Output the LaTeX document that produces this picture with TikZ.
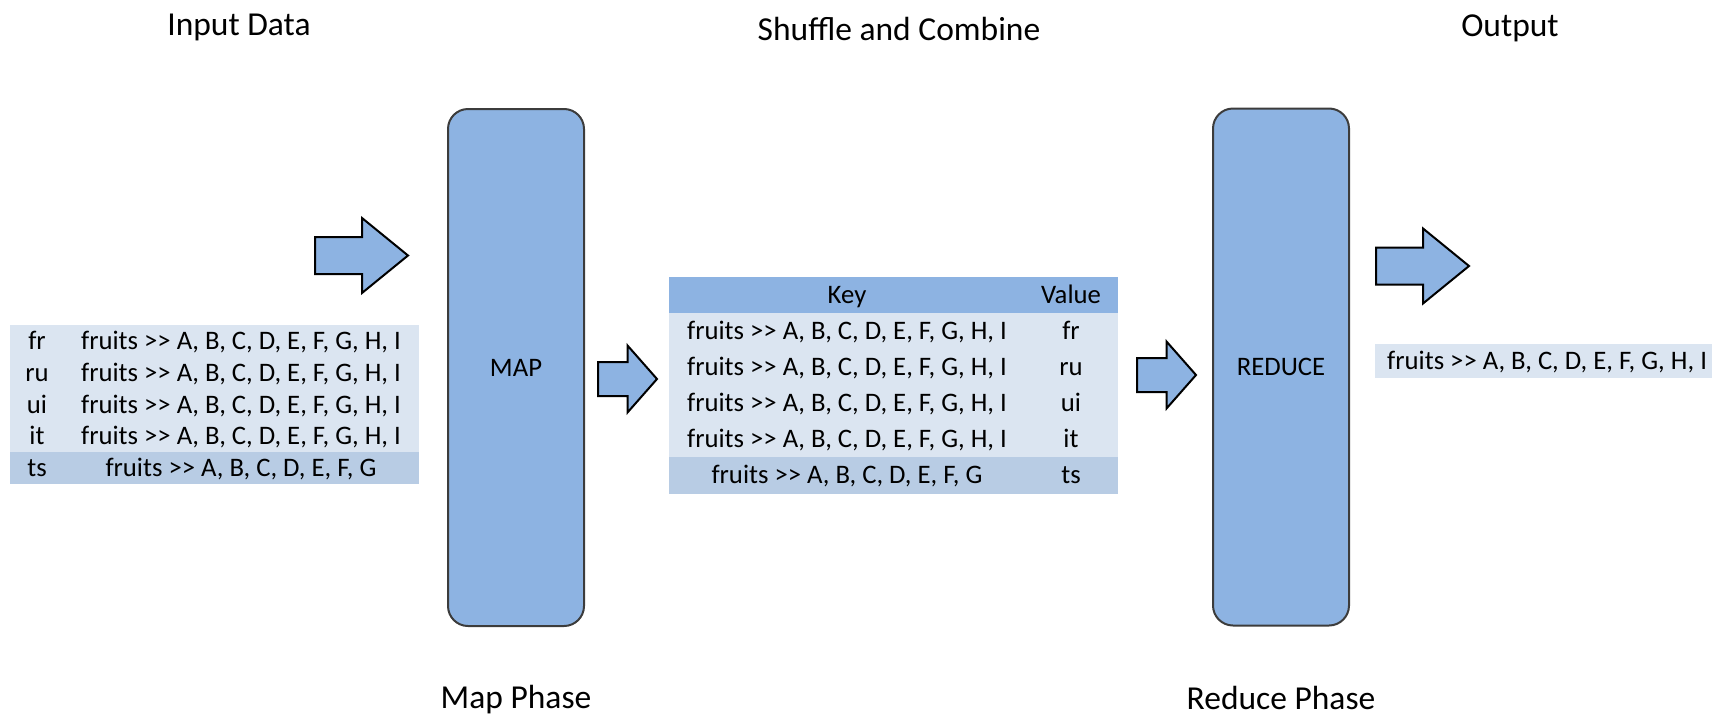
\documentclass[tikz,border=0pt]{standalone}
\usepackage{fontspec}
\setmainfont{Carlito}
\usetikzlibrary{positioning}
\definecolor{mrBlue}{RGB}{141,179,226}
\definecolor{mrLight}{RGB}{219,229,241}
\definecolor{mrDark}{RGB}{184,204,228}
\definecolor{mrGray}{RGB}{60,60,60}
\newcommand\fruitsall{fruits >\kern0pt> A, B, C, D, E, F, G, H, I}
\newcommand\fruitsseven{fruits >\kern0pt> A, B, C, D, E, F, G}

\begin{document}
\begin{tikzpicture}[
  x=1pt, y=-1pt,
  node distance=0pt,
  every node/.style={font=\fontsize{26.7}{32}\selectfont, text height=17.1pt, text depth=0pt, inner sep=0pt},
  title/.style={font=\fontsize{33.5}{40}\selectfont, text height=21.5pt},
  phase/.style={draw=mrGray, line width=2pt, fill=mrBlue, rounded corners=20pt, minimum width=136pt, minimum height=517pt},
  tint/.style={fill=#1, draw=#1, line width=0.8pt, outer sep=0pt},
  keycell/.style={tint=mrLight, minimum width=54pt, minimum height=31.75pt},
  valcell/.style={tint=mrLight, minimum width=354pt, minimum height=31.75pt},
  kvkey/.style={tint=mrLight, minimum width=356pt, minimum height=36pt},
  kvval/.style={tint=mrLight, minimum width=92pt, minimum height=36pt},
  blockarrow/.style={draw=black, line width=2pt, fill=mrBlue, line join=miter},
  bigarrow/.pic={\draw[blockarrow] (0,-18.5) -- (47,-18.5) -- (47,-37.5) -- (93,0) -- (47,37.5) -- (47,18.5) -- (0,18.5) -- cycle;},
  smallarrow/.pic={\draw[blockarrow] (0,-17) -- (29.5,-17) -- (29.5,-33.5) -- (59,0) -- (29.5,33.5) -- (29.5,17) -- (0,17) -- cycle;}
]
\useasboundingbox (0,0) rectangle (1712,715);

% Headings
\node[title] (tin) at (239,25) {Input Data};
\node[title] (tshuffle) at (899,29.5) {Shuffle and Combine};
\node[title] (tout) at (1510,26) {Output};

% Input data
\node[keycell] (in1k) at (37,341) {fr};
\node[valcell, right=of in1k] (in1v) {\fruitsall};
\node[keycell, below=of in1k] (in2k) {ru};
\node[valcell, right=of in2k] (in2v) {\fruitsall};
\node[keycell, below=of in2k] (in3k) {ui};
\node[valcell, right=of in3k] (in3v) {\fruitsall};
\node[keycell, below=of in3k] (in4k) {it};
\node[valcell, right=of in4k] (in4v) {\fruitsall};
\node[keycell, below=of in4k, tint=mrDark] (in5k) {ts};
\node[valcell, right=of in5k, tint=mrDark] (in5v) {\fruitsseven};

% The two phases
\node[phase] (map) at (516,367.5) {MAP};
\node[phase] (reduce) at (1281,367) {REDUCE};
\node[title, below=60pt of map] (tmap) {Map Phase};
\node[title, below=61pt of reduce] (treduce) {Reduce Phase};

% Shuffle and combine table
\node[kvkey, tint=mrBlue] (kh) at (847,295) {Key};
\node[kvval, right=of kh, tint=mrBlue] (vh) {Value};
\node[kvkey, below=of kh] (k1) {\fruitsall};
\node[kvval, right=of k1] (v1) {fr};
\node[kvkey, below=of k1] (k2) {\fruitsall};
\node[kvval, right=of k2] (v2) {ru};
\node[kvkey, below=of k2] (k3) {\fruitsall};
\node[kvval, right=of k3] (v3) {ui};
\node[kvkey, below=of k3] (k4) {\fruitsall};
\node[kvval, right=of k4] (v4) {it};
\node[kvkey, below=of k4, tint=mrDark] (k5) {\fruitsseven};
\node[kvval, right=of k5, tint=mrDark] (v5) {ts};

% Output
\node[fill=mrLight, minimum height=34pt, inner xsep=12pt, anchor=west] (out) at (1375,361) {\fruitsall};

% Block arrows
\pic at (315,255.5) {bigarrow};
\pic at (598,379) {smallarrow};
\pic at (1137,375) {smallarrow};
\pic at (1376,266) {bigarrow};

\end{tikzpicture}
\end{document}
